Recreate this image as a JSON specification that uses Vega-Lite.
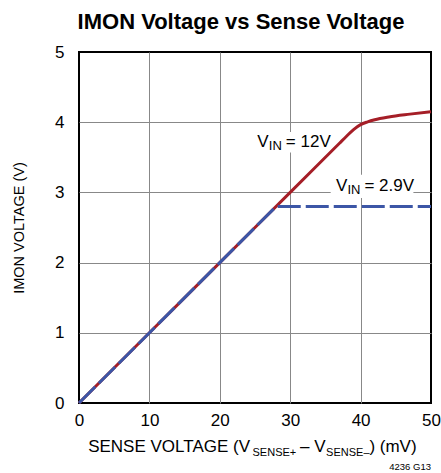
{
  "$schema": "https://vega.github.io/schema/vega-lite/v6.json",
  "width": 352,
  "height": 351,
  "autosize": {"type": "none"},
  "padding": {"left": 79, "top": 52, "right": 10, "bottom": 70},
  "background": "white",
  "title": {
    "text": "IMON Voltage vs Sense Voltage",
    "font": "Liberation Sans",
    "fontWeight": "bold",
    "fontSize": 22,
    "color": "black",
    "anchor": "middle",
    "dx": -14,
    "offset": 9
  },
  "config": {
    "view": {"stroke": "black", "strokeWidth": 2},
    "axis": {
      "domain": false,
      "ticks": false,
      "tickSize": 0,
      "grid": true,
      "gridColor": "#888888",
      "gridWidth": 1,
      "gridOpacity": {"condition": {"test": "datum.value === 0 || datum.value === 50 || datum.value === 5", "value": 0}, "value": 1},
      "labelFont": "Liberation Sans",
      "labelFontSize": 17,
      "labelColor": "black",
      "labelFlush": false,
      "labelOverlap": false,
      "labelBound": false
    }
  },
  "layer": [
    {
      "data": {"values": [
        {"x1": 35.75, "x2": 47.5, "y1": 2.92, "y2": 3.25},
        {"x1": 25.0, "x2": 35.6, "y1": 3.57, "y2": 3.86}
      ]},
      "mark": {"type": "rect", "color": "white"},
      "encoding": {
        "x": {"field": "x1", "type": "quantitative", "scale": {"domain": [0, 50], "nice": false},
          "axis": {"values": [0, 10, 20, 30, 40, 50], "title": null, "labelPadding": 9, "format": "d"}},
        "x2": {"field": "x2"},
        "y": {"field": "y1", "type": "quantitative", "scale": {"domain": [0, 5], "nice": false},
          "axis": {"values": [0, 1, 2, 3, 4, 5], "format": "d", "title": "IMON VOLTAGE (V)", "labelPadding": 15,
            "titleFont": "Liberation Sans", "titleFontSize": 14.5, "titleFontWeight": "normal",
            "titleColor": "black", "titleAngle": -90, "titleX": -56, "titleY": 175.5,
            "titleAlign": "center", "titleBaseline": "alphabetic"}},
        "y2": {"field": "y2"}
      }
    },
    {
      "data": {"values": [
        {"x": 0, "y": 0}, {"x": 10, "y": 1}, {"x": 20, "y": 2}, {"x": 30, "y": 3},
        {"x": 37, "y": 3.7}, {"x": 38, "y": 3.8}, {"x": 39, "y": 3.895}, {"x": 40, "y": 3.965},
        {"x": 41, "y": 4.005}, {"x": 42, "y": 4.035}, {"x": 44, "y": 4.075}, {"x": 47, "y": 4.115},
        {"x": 50, "y": 4.15}
      ]},
      "mark": {"type": "line", "color": "#a51e27", "strokeWidth": 3, "interpolate": "monotone"},
      "encoding": {
        "x": {"field": "x", "type": "quantitative"},
        "y": {"field": "y", "type": "quantitative"}
      }
    },
    {
      "data": {"values": [
        {"x": 0, "y": 0}, {"x": 28, "y": 2.8}, {"x": 50, "y": 2.8}
      ]},
      "mark": {"type": "line", "color": "#3c56a6", "strokeWidth": 3, "strokeDash": [23, 5]},
      "encoding": {
        "x": {"field": "x", "type": "quantitative"},
        "y": {"field": "y", "type": "quantitative"}
      }
    },
    {
      "data": {"name": "ann", "values": [
        {"x": 25.33, "y": 3.65, "main": "V", "sub": "IN", "rest": "= 12V"},
        {"x": 36.5, "y": 3.02, "main": "V", "sub": "IN", "rest": "= 2.9V"}
      ]},
      "layer": [
        {
          "mark": {"type": "text", "font": "Liberation Sans", "fontSize": 17, "align": "left", "baseline": "alphabetic", "color": "black"},
          "encoding": {
            "x": {"field": "x", "type": "quantitative"},
            "y": {"field": "y", "type": "quantitative"},
            "text": {"field": "main"}
          }
        },
        {
          "mark": {"type": "text", "font": "Liberation Sans", "fontSize": 13, "align": "left", "baseline": "alphabetic", "color": "black", "dx": 11.5, "dy": 3},
          "encoding": {
            "x": {"field": "x", "type": "quantitative"},
            "y": {"field": "y", "type": "quantitative"},
            "text": {"field": "sub"}
          }
        },
        {
          "mark": {"type": "text", "font": "Liberation Sans", "fontSize": 17, "align": "left", "baseline": "alphabetic", "color": "black", "dx": 28.5},
          "encoding": {
            "x": {"field": "x", "type": "quantitative"},
            "y": {"field": "y", "type": "quantitative"},
            "text": {"field": "rest"}
          }
        }
      ]
    },
    {
      "data": {"values": [
        {"x": 1.3, "text": "SENSE VOLTAGE (V"},
        {"x": 31.4, "text": "– V"},
        {"x": 41.25, "text": ") (mV)"}
      ]},
      "mark": {"type": "text", "font": "Liberation Sans", "fontSize": 17, "align": "left", "baseline": "alphabetic", "color": "black", "clip": false},
      "encoding": {
        "x": {"field": "x", "type": "quantitative"},
        "y": {"datum": -0.698, "type": "quantitative"},
        "text": {"field": "text"}
      }
    },
    {
      "data": {"values": [
        {"x": 24.65, "text": "SENSE+"},
        {"x": 35.1, "text": "SENSE–"}
      ]},
      "mark": {"type": "text", "font": "Liberation Sans", "fontSize": 11, "align": "left", "baseline": "alphabetic", "color": "black", "clip": false},
      "encoding": {
        "x": {"field": "x", "type": "quantitative"},
        "y": {"datum": -0.755, "type": "quantitative"},
        "text": {"field": "text"}
      }
    },
    {
      "data": {"values": [{"x": 50, "text": "4236 G13"}]},
      "mark": {"type": "text", "font": "Liberation Sans", "fontSize": 9.5, "align": "right", "baseline": "alphabetic", "color": "black", "clip": false},
      "encoding": {
        "x": {"field": "x", "type": "quantitative"},
        "y": {"datum": -0.955, "type": "quantitative"},
        "text": {"field": "text"}
      }
    }
  ]
}
